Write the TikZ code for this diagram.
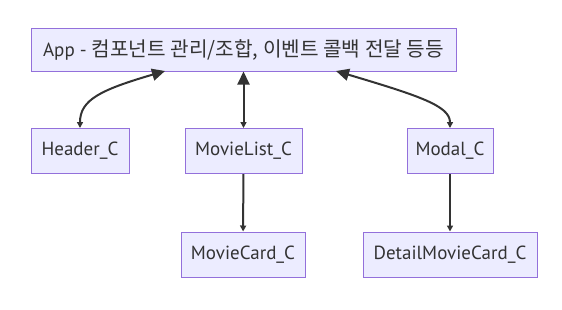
\documentclass[tikz,border=0pt]{standalone}
\usepackage{fontspec}
\setmainfont{PT Sans}
\newfontfamily\kr{Noto Sans CJK KR}
\usetikzlibrary{arrows.meta}
\definecolor{boxfill}{RGB}{236,236,255}
\definecolor{boxline}{RGB}{147,112,219}
\definecolor{pfeil}{RGB}{51,51,51}

\begin{document}
\begin{tikzpicture}[x=1pt, y=-1pt, font=\fontsize{19}{22}\selectfont,
	comp/.style={draw=boxline, fill=boxfill, line width=1pt, minimum height=45pt, inner sep=0pt, text=pfeil},
	link/.style={pfeil, line width=2pt, {Triangle[length=13pt,width=12pt]}-{Triangle[length=6pt,width=6pt]}},
	down/.style={pfeil, line width=2pt, -{Triangle[length=6pt,width=6pt]}}]
	\useasboundingbox (0,0) rectangle (562,309);

	\node[comp, minimum width=425pt, minimum height=43pt] (app) at (243.5,49.5) {App - {\kr\fontsize{20.2}{22}\selectfont 컴포넌트 관리/조합, 이벤트 콜백 전달 등등}};

	\node[comp, minimum width=98pt] (header) at (80,151) {Header\_C};
	\node[comp, minimum width=117pt] (list) at (243.5,151) {MovieList\_C};
	\node[comp, minimum width=86pt] (modal) at (450,151) {Modal\_C};

	\node[comp, minimum width=124pt] (card) at (243,254.5) {MovieCard\_C};
	\node[comp, minimum width=174pt] (detail) at (450,254.5) {DetailMovieCard\_C};

	\coordinate (appL) at (165,71);
	\coordinate (appR) at (336,71);

	\draw[link] (appL) .. controls (100,90) and (80,100) .. (header.north);
	\draw[link] (app.south) -- (list.north);
	\draw[link] (appR) .. controls (420,96) and (450,106) .. (modal.north);

	\draw[down] (list) -- (card);
	\draw[down] (modal) -- (detail);
\end{tikzpicture}
\end{document}
